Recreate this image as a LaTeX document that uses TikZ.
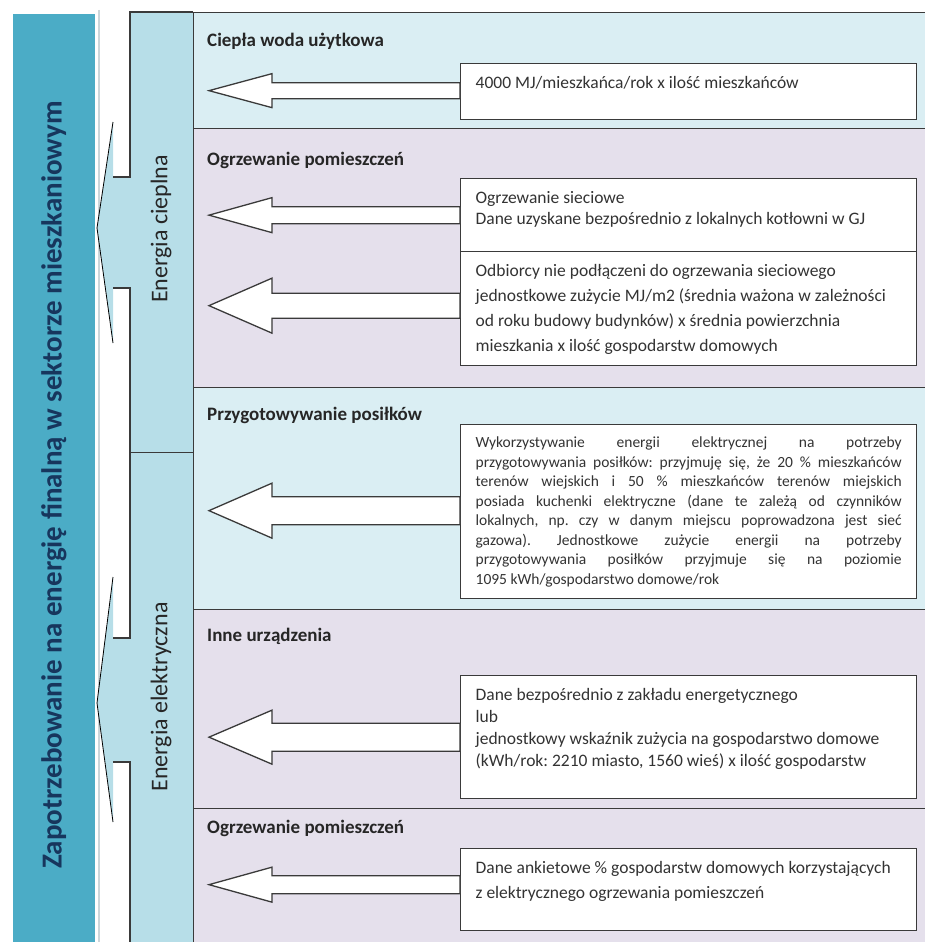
\documentclass[tikz,border=0pt]{standalone}
\usepackage{fontspec}
\setmainfont{Carlito}
\usetikzlibrary{calc}
\definecolor{barteal}{HTML}{4BACC6}
\definecolor{arrowblue}{HTML}{B7DEE8}
\definecolor{secblue}{HTML}{DAEEF3}
\definecolor{seclav}{HTML}{E5E0EC}
\definecolor{edgegray}{HTML}{3A3A3A}
\definecolor{navytext}{HTML}{17365D}
\definecolor{bodytext}{HTML}{333333}
\definecolor{shadegray}{HTML}{CCD6DA}
\frenchspacing
\newcommand{\boxtext}[3]{\parbox[t][#1][t]{426pt}{\fontsize{17.5pt}{#2}\selectfont\raggedright\rule{0pt}{15pt}#3}}

\begin{document}
\begin{tikzpicture}[x=1pt, y=-1pt,
	section/.style={draw=edgegray, line width=1.3pt, rectangle, minimum width=740pt, anchor=north west, inner sep=0pt},
	databox/.style={draw=edgegray, fill=white, line width=1.3pt, rectangle, anchor=north west, inner xsep=15pt, inner ysep=10pt, text=bodytext},
	heading/.style={anchor=base west, inner sep=0pt, font=\bfseries\fontsize{19pt}{22pt}\selectfont, text=black!85},
	energy/.style={rotate=90, font=\fontsize{24pt}{28pt}\selectfont, text=black!85},
	flow/.style={draw=edgegray, fill=white, line width=1.3pt, line join=miter},
	bigedge/.style={draw=edgegray, line width=1.3pt}]
	
	\useasboundingbox (0, 0) rectangle (925, 942);
	
	% main bar
	\node [fill=barteal, rectangle, minimum width=82pt, minimum height=928pt, anchor=north west, inner sep=0pt] at (13, 14) (bar){};
	\draw [shadegray, line width=1.5pt] (99, 10) -- (99, 942);
	\node [rotate=90, font=\bfseries\fontsize{29pt}{32pt}\selectfont, text=navytext] at (54, 485) (maintitle){Zapotrzebowanie na energię finalną w sektorze mieszkaniowym};
	
	% energy arrows
	\fill [arrowblue] (193, 12) -- (130, 12) -- (130, 177) -- (113, 177) -- (113, 122) -- (97, 228) -- (113, 343) -- (113, 288) -- (130, 288) -- (130, 453) -- (193, 453) -- cycle;
	\draw [bigedge] (113, 177) -- (130, 177) -- (130, 12) -- (193, 12);
	\draw [black, line width=0.8pt] (113, 122) -- (97, 228) -- (113, 343);
	\draw [bigedge] (113, 288) -- (130, 288) -- (130, 453) -- (193, 453);
	\node [energy] at (161, 229) (heat){Energia cieplna};
	
	\fill [arrowblue] (193, 453) -- (130, 453) -- (130, 638) -- (113, 638) -- (113, 577) -- (97, 703) -- (113, 822) -- (113, 762) -- (130, 762) -- (130, 945) -- (193, 945) -- cycle;
	\draw [bigedge] (113, 638) -- (130, 638) -- (130, 453);
	\draw [black, line width=0.8pt] (113, 577) -- (97, 703) -- (113, 822);
	\draw [bigedge] (113, 762) -- (130, 762) -- (130, 945);
	\node [energy] at (161, 697) (power){Energia elektryczna};
	
	% sections
	\foreach \n/\y/\h/\c in {1/12/116/secblue, 2/128/259/seclav, 3/387/222/secblue, 4/609/199/seclav, 5/808/140/seclav}{
		\node [section, fill=\c, minimum height=\h] at (193, \y) (sec\n){};
	}
	
	\node [heading] at (207, 47) (head1){Ciepła woda użytkowa};
	\node [heading] at (207, 165) (head2){Ogrzewanie pomieszczeń};
	\node [heading] at (207, 420) (head3){Przygotowywanie posiłków};
	\node [heading] at (207, 641) (head4){Inne urządzenia};
	\node [heading] at (207, 833) (head5){Ogrzewanie pomieszczeń};
	
	% data boxes
	\node [databox] at (460, 63) (box1){\boxtext{36pt}{22pt}{4000 MJ/mieszkańca/rok x ilość mieszkańców}};
	\node [databox] at (460, 178) (box2a){\boxtext{53pt}{21pt}{Ogrzewanie sieciowe\\Dane uzyskane bezpośrednio z lokalnych kotłowni w GJ}};
	\node [databox] at (460, 251) (box2b){\boxtext{94pt}{25pt}{Odbiorcy nie podłączeni do ogrzewania sieciowego\\jednostkowe zużycie MJ/m2 (średnia ważona w zależności\\od roku budowy budynków) x średnia powierzchnia\\mieszkania x ilość gospodarstw domowych}};
	\node [databox] at (460, 424) (box3){\parbox[t][154pt][t]{426pt}{\fontsize{15.5pt}{19.5pt}\selectfont\rule{0pt}{13pt}Wykorzystywanie energii elektrycznej na potrzeby\linebreak przygotowywania posiłków: przyjmuję się, że 20 \% mieszkańców\linebreak terenów wiejskich i 50 \% mieszkańców terenów miejskich\linebreak posiada kuchenki elektryczne (dane te zależą od czynników\linebreak lokalnych, np. czy w danym miejscu poprowadzona jest sieć\linebreak gazowa). Jednostkowe zużycie energii na potrzeby\linebreak przygotowywania posiłków przyjmuje się na poziomie\linebreak 1095 kWh/gospodarstwo domowe/rok}};
	\node [databox] at (460, 675) (box4){\boxtext{103pt}{22pt}{Dane bezpośrednio z zakładu energetycznego\\lub\\jednostkowy wskaźnik zużycia na gospodarstwo domowe\\(kWh/rok: 2210 miasto, 1560 wieś) x ilość gospodarstw}};
	\node [databox] at (460, 848) (box5){\boxtext{62pt}{25pt}{Dane ankietowe \% gospodarstw domowych korzystających\\z elektrycznego ogrzewania pomieszczeń}};
	
	% block arrows
	\foreach \bx/\hw/\sw/\dy in {box1/17/8/-1, box2a/17.5/8.5/0, box2b/27.5/12.5/-3, box3/27.5/14/-1, box4/27/14/0, box5/17.5/9/-5}{
		\draw [flow] (\bx.west) ++(0, {\dy-\sw}) -- ++(-188, 0) -- ++(0, {\sw-\hw}) -- ++(-63, \hw) -- ++(63, \hw) -- ++(0, {\sw-\hw}) -- ++(188, 0) -- cycle;
	}
	
\end{tikzpicture}
\end{document}
